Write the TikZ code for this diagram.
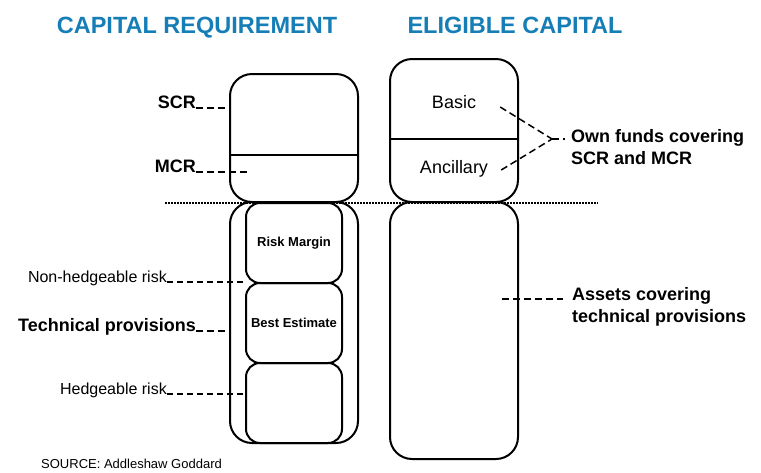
\documentclass[tikz,border=0pt]{standalone}
\usepackage{fontspec}
\setmainfont{Liberation Sans}
\usepackage{xcolor}
\usepackage{tikz}
\usetikzlibrary{calc}
\usetikzlibrary{positioning}
\definecolor{titleblue}{RGB}{22,126,182}

\tikzset{
  bigbox/.style={draw, line width=2pt, rounded corners=22pt, inner sep=0pt, minimum width=128pt},
  smallbox/.style={draw, line width=2pt, rounded corners=14pt, inner sep=0pt, outer sep=0pt,
    minimum width=96pt, minimum height=80pt, font=\bfseries\fontsize{13}{15}\selectfont},
  heading/.style={font=\bfseries\fontsize{23.5}{26}\selectfont, text=titleblue, inner sep=0pt},
  boldlabel/.style={font=\bfseries\fontsize{18}{22}\selectfont, inner sep=0pt},
  plainlabel/.style={font=\fontsize{16}{19}\selectfont, inner sep=0pt},
  boxlabel/.style={font=\fontsize{18}{22}\selectfont, inner sep=0pt},
  leader/.style={line width=1.5pt, dash pattern=on 7pt off 4pt},
  thinleader/.style={line width=1.1pt, dash pattern=on 6pt off 4pt},
  divider/.style={line width=1.5pt},
}

\begin{document}
\begin{tikzpicture}[x=1pt, y=-1pt, line join=round]
  \useasboundingbox (0,0) rectangle (761,472);
  %--- Headings
    \node[heading, anchor=base] (reqhead) at (197,33) {CAPITAL REQUIREMENT};
    \node[heading, anchor=base] (elighead) at (515,33) {ELIGIBLE CAPITAL};
  %--- Dotted split
    \coordinate (splitl) at (165,203);
    \coordinate (splitr) at (598,203);
    \draw[line width=1.2pt, dash pattern=on 1.5pt off 1.5pt] (splitl) -- (splitr);
  %--- Capital requirement
    \node[bigbox, minimum height=128pt] (reqtop) at (294,138) {};
    \draw[divider] (reqtop.west |- 0,155) -- (reqtop.east |- 0,155);
    \node[bigbox, minimum height=241pt] (reqlow) at (294,322.5) {};
    \node[smallbox] (margin) at (294,243) {Risk Margin};
    \node[smallbox, below=0pt of margin] (estimate) {Best Estimate};
    \node[smallbox, below=0pt of estimate] (hedge) {};
  %--- Eligible capital
    \node[bigbox, minimum height=143pt] (eligtop) at (454,130.5) {};
    \draw[divider] (eligtop.west |- 0,139) -- (eligtop.east |- 0,139);
    \node[bigbox, minimum height=257pt] (eliglow) at (454,330.5) {};
    \node[boxlabel, anchor=base] (basic) at (454,108) {Basic};
    \node[boxlabel, anchor=base] (ancillary) at (454,173) {Ancillary};
  %--- Left labels
    \node[boldlabel, anchor=base east] (scr) at (196,108) {SCR};
    \draw[leader] (scr.base east) -- (reqtop.west |- scr.base east);
    \node[boldlabel, anchor=base east] (mcr) at (196,172) {MCR};
    \coordinate (mcrend) at (247,172);
    \draw[leader] (mcr.base east) -- (mcrend);
    \node[plainlabel, anchor=base east] (nonhedge) at (167,282) {Non-hedgeable risk};
    \draw[thinleader] (nonhedge.base east) -- (margin.west |- nonhedge.base east);
    \node[boldlabel, anchor=base east] (techprov) at (196,331) {Technical provisions};
    \draw[leader] (techprov.base east) -- (reqlow.west |- techprov.base east);
    \node[plainlabel, anchor=base east] (hedgelabel) at (167,394) {Hedgeable risk};
    \draw[thinleader] (hedgelabel.base east) -- (hedge.west |- hedgelabel.base east);
  %--- Right labels
    \node[boldlabel, anchor=north west, align=left] (ownfunds) at (571,129) {Own funds covering\\SCR and MCR};
    \coordinate (ownjoin) at (552,139);
    \draw[leader] ([xshift=24pt, yshift=1pt]basic.base east) -- (ownjoin);
    \draw[leader] ([xshift=13pt, yshift=3pt]ancillary.base east) -- (ownjoin);
    \draw[leader] (ownjoin) -- ([xshift=-6pt]ownfunds.west |- ownjoin);
    \node[boldlabel, anchor=north west, align=left] (assets) at (572,287) {Assets covering\\technical provisions};
    \coordinate (assetsend) at (502,299);
    \draw[leader] (assetsend) -- ([xshift=-9pt]assets.west |- assetsend);
  %--- Source
    \node[font=\fontsize{13}{15}\selectfont, inner sep=0pt, anchor=base west] (source) at (41,468) {SOURCE: Addleshaw Goddard};
\end{tikzpicture}
\end{document}
